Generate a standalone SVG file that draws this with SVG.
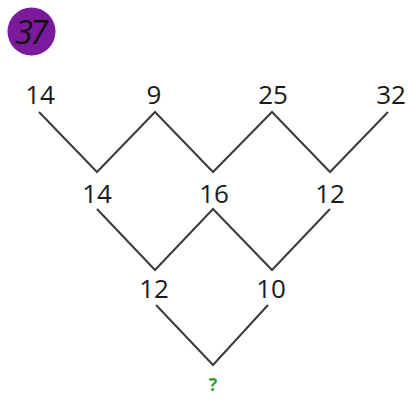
<svg xmlns="http://www.w3.org/2000/svg" width="408" height="398" viewBox="0 0 408 398">
<style>
.n{font-family:"Open Sans","Noto Sans",sans-serif;font-size:26px;fill:#1a1a1a;text-anchor:middle}
.c{fill:none;stroke:#3a3a3a;stroke-width:2;stroke-linejoin:miter}
</style>
<rect width="408" height="398" fill="#ffffff"/>
<g id="badge">
<circle cx="31.5" cy="31.5" r="24" fill="#7b1a9c"/>
<text x="30" y="44" font-family="Open Sans, sans-serif" font-style="italic" font-size="33" letter-spacing="-3" fill="#111" text-anchor="middle">37</text>
</g>
<g id="connectors">
<polyline class="c" points="39,112 97,172 155,112 213,172 272,112 330,172 388,112"/>
<polyline class="c" points="97,209 155,270 213,209 272,270 330,209"/>
<polyline class="c" points="156,305 213,365 268,305"/>
</g>
<g id="n1"><text class="n" x="40" y="104">14</text></g>
<g id="n2"><text class="n" x="154" y="104">9</text></g>
<g id="n3"><text class="n" x="273" y="104">25</text></g>
<g id="n4"><text class="n" x="391" y="104">32</text></g>
<g id="n5"><text class="n" x="97" y="203">14</text></g>
<g id="n6"><text class="n" x="214" y="203">16</text></g>
<g id="n7"><text class="n" x="330" y="203">12</text></g>
<g id="n8"><text class="n" x="154" y="298">12</text></g>
<g id="n9"><text class="n" x="271" y="298">10</text></g>
<g id="n10"><text x="213" y="391" font-family="Open Sans, sans-serif" font-weight="bold" font-size="18" fill="#3a9a3a" text-anchor="middle">?</text></g>
</svg>
